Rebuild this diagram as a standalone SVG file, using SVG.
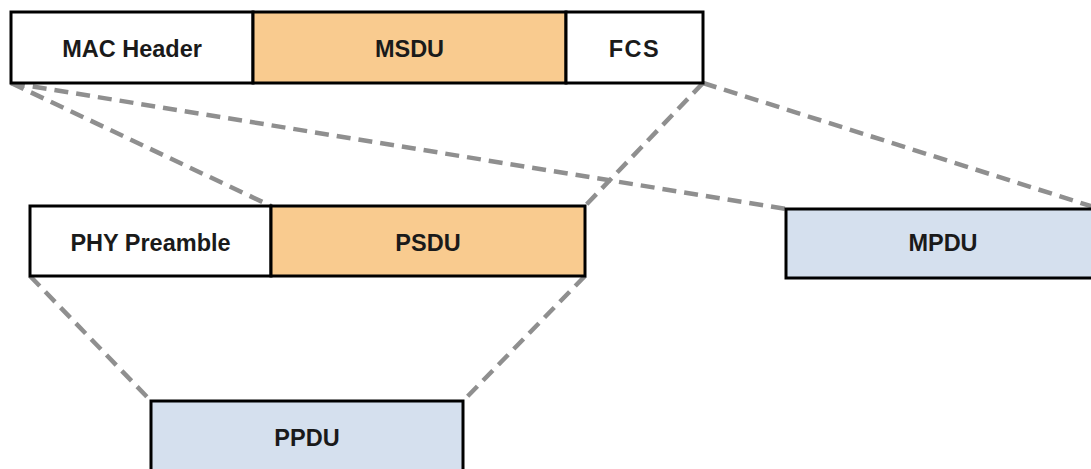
<svg xmlns="http://www.w3.org/2000/svg" width="1091" height="469" viewBox="0 0 1091 469">
<style>
.box{stroke:#000;stroke-width:3}
.w{fill:#fff}
.o{fill:#F9CB8F}
.b{fill:#D5E0EE}
.t{font-family:"Liberation Sans",Arial,sans-serif;font-weight:bold;font-size:23.5px;fill:#1a1a1a;text-anchor:middle}
.c{stroke:#8f8f8f;stroke-width:4.5;stroke-dasharray:14 8;fill:none}
</style>
<rect width="1091" height="469" fill="#fff"/>
<g id="connectors">
<line class="c" x1="11" y1="83" x2="271" y2="206"/>
<line class="c" x1="11" y1="83" x2="786" y2="209"/>
<line class="c" x1="703" y1="83" x2="585" y2="206"/>
<line class="c" x1="703" y1="83" x2="1100" y2="209"/>
<line class="c" x1="30" y1="276" x2="151" y2="401"/>
<line class="c" x1="585" y1="276" x2="463" y2="401"/>
</g>
<g id="mac-header"><rect class="box w" x="11" y="12" width="242" height="71"/><text class="t" x="132" y="57">MAC Header</text></g>
<g id="msdu"><rect class="box o" x="253" y="12" width="313" height="71"/><text class="t" x="409.5" y="57">MSDU</text></g>
<g id="fcs"><rect class="box w" x="566" y="12" width="137" height="71"/><text class="t" x="634.5" y="57" letter-spacing="1.5">FCS</text></g>
<g id="phy-preamble"><rect class="box w" x="30" y="206" width="241" height="70"/><text class="t" x="150.5" y="251">PHY Preamble</text></g>
<g id="psdu"><rect class="box o" x="271" y="206" width="314" height="70"/><text class="t" x="428" y="251">PSDU</text></g>
<g id="mpdu"><rect class="box b" x="786" y="209" width="314" height="69"/><text class="t" x="943" y="251">MPDU</text></g>
<g id="ppdu"><rect class="box b" x="151" y="401" width="312" height="80"/><text class="t" x="307" y="446">PPDU</text></g>
</svg>
